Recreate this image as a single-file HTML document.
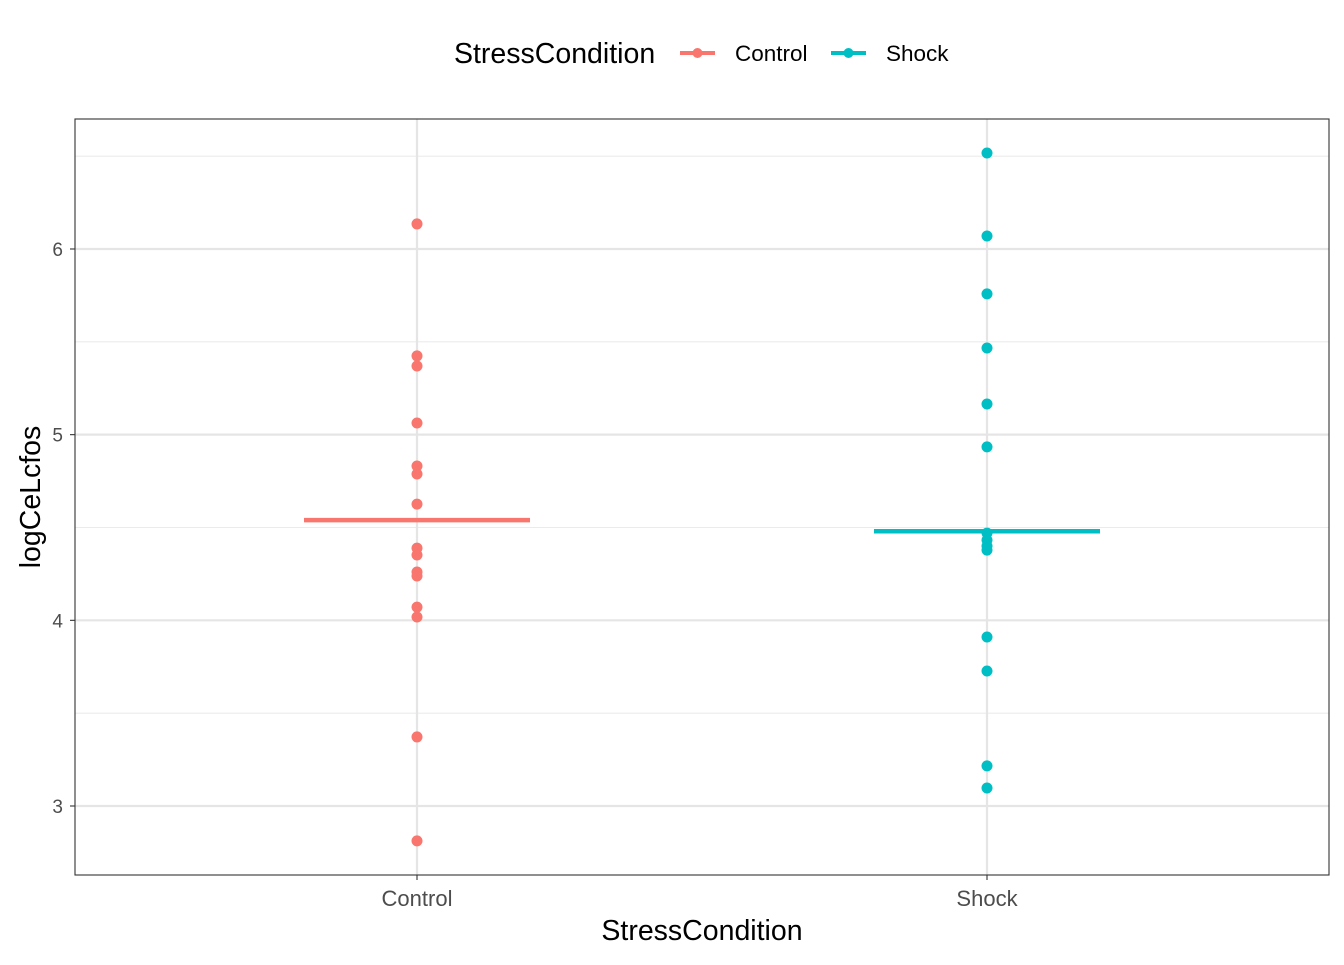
<!DOCTYPE html>
<html><head><meta charset="utf-8"><style>
body{margin:0;background:#fff;font-family:"Liberation Sans",Arial,sans-serif}
svg text{font-family:"Liberation Sans",Arial,sans-serif}
</style></head><body>
<svg id="chart" width="1344" height="960" xmlns="http://www.w3.org/2000/svg">
<rect width="1344" height="960" fill="#fff"/>
<g id="grid"></g><g id="marks"></g><g id="axes"></g>
<g>
<text x="454" y="63" font-size="28.5" fill="#000">StressCondition</text>
<g>
<line x1="680" y1="53" x2="715" y2="53" stroke="#F8766D" stroke-width="4"/>
<circle cx="697.5" cy="53" r="5" fill="#F8766D"/>
<text x="735" y="61" font-size="22.5" fill="#000">Control</text></g>
<g>
<line x1="831" y1="53" x2="866" y2="53" stroke="#00BFC4" stroke-width="4"/>
<circle cx="848.5" cy="53" r="5" fill="#00BFC4"/>
<text x="886" y="61" font-size="22.5" fill="#000">Shock</text></g>
</g>
<text x="702" y="940" font-size="28.5" text-anchor="middle" fill="#000">StressCondition</text>
<text transform="translate(40,497) rotate(-90)" font-size="28.5" text-anchor="middle" fill="#000">logCeLcfos</text>
</svg>
<script>
const categories=["Control","Shock"];
const controlValues=[6.135,5.424,5.370,5.063,4.831,4.788,4.626,4.389,4.352,4.260,4.239,4.071,4.018,3.372,2.812];
const shockValues=[6.517,6.070,5.758,5.467,5.165,4.934,4.470,4.432,4.400,4.378,3.910,3.727,3.216,3.097];
const meanValues=[4.54,4.48];
const yMajorTicks=[3,4,5,6];
const yMinorTicks=[3.5,4.5,5.5,6.5];
const colors=["#F8766D","#00BFC4"];
const P={l:75,r:1329,t:119,b:875};
const y=v=>806-(v-3)*185.67;
const x=i=>417+i*570;
const NS="http://www.w3.org/2000/svg";
function mk(tag,attrs,parent){const e=document.createElementNS(NS,tag);for(const k in attrs)e.setAttribute(k,attrs[k]);parent.appendChild(e);return e;}
const grid=document.getElementById('grid'),marks=document.getElementById('marks'),axes=document.getElementById('axes');
yMinorTicks.forEach(t=>{const l=mk('line',{x1:P.l,x2:P.r,y1:y(t),y2:y(t),stroke:'#ebebeb','stroke-width':1.1},grid);

});
yMajorTicks.forEach(t=>{const l=mk('line',{x1:P.l,x2:P.r,y1:y(t),y2:y(t),stroke:'#e5e5e5','stroke-width':2.2},grid);


const tk=mk('line',{x1:P.l-5,x2:P.l,y1:y(t),y2:y(t),stroke:'#333','stroke-width':1.1},axes);


const tx=mk('text',{x:P.l-12,y:y(t)+7,'font-size':19,'text-anchor':'end',fill:'#4d4d4d'},axes);tx.textContent=t;

});
categories.forEach((c,i)=>{const l=mk('line',{x1:x(i),x2:x(i),y1:P.t,y2:P.b,stroke:'#e5e5e5','stroke-width':2.2},grid);


const tk=mk('line',{x1:x(i),x2:x(i),y1:P.b,y2:P.b+5,stroke:'#333','stroke-width':1.1},axes);


const tx=mk('text',{x:x(i),y:P.b+31,'font-size':22,'text-anchor':'middle',fill:'#4d4d4d'},axes);tx.textContent=c;

});
const fr=mk('rect',{x:P.l,y:P.t,width:P.r-P.l,height:P.b-P.t,fill:'none',stroke:'#333','stroke-width':1.1},axes);


[controlValues,shockValues].forEach((vals,i)=>{
const m=mk('line',{x1:x(i)-113,x2:x(i)+113,y1:y(meanValues[i]),y2:y(meanValues[i]),stroke:colors[i],'stroke-width':4.5},marks);


vals.forEach(v=>{const p=mk('circle',{cx:x(i),cy:y(v),r:5.5,fill:colors[i]},marks);

});});
</script>
</body></html>
